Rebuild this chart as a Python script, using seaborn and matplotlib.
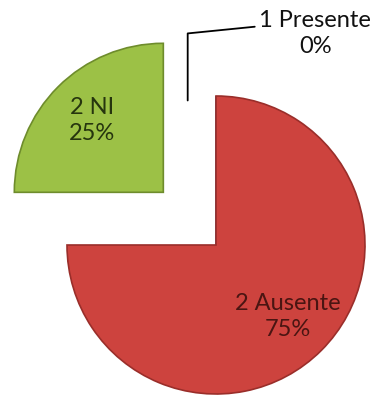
import matplotlib
matplotlib.use("Agg")
import matplotlib.pyplot as plt
import seaborn as sns
import numpy as np

categories = ["1 Presente", "2 Ausente", "2 NI"]
values = [0, 75, 25]
explode = [0.0, 0.0, 0.5]
colors = ["#4F81BD", "#CD433E", "#9CC146"]
edge_colors = ["#2F4F7A", "#9A2E2A", "#6E8C2C"]
text_colors = ["#111111", "#4A1512", "#26350E"]

sns.set_theme(style="white")
plt.rcParams["font.family"] = ["Lato", "DejaVu Sans"]

W, H, PX = 379, 399, 149.0
cx, cy = 216, 245
fig = plt.figure(figsize=(W / 100, H / 100), dpi=100)
ax = fig.add_axes([0, 0, 1, 1])

wedges, _ = ax.pie(values, explode=explode, colors=colors, startangle=90,
                   counterclock=False, radius=1.0,
                   wedgeprops=dict(linewidth=1.2))
for w, ec in zip(wedges, edge_colors):
    w.set_edgecolor(ec)

ax.set_xlim(-cx / PX, (W - cx) / PX)
ax.set_ylim(-(H - cy) / PX, cy / PX)
ax.set_aspect("equal")
ax.axis("off")

fs = 17
total = sum(values)
for w, name, v, tc in zip(wedges, categories, values, text_colors):
    pct = f"{v / total:.0%}"
    if v == 0:
        # zero slice: label outside with a leader line
        tx, ty = 0.665, 1.42
        ax.plot([-0.19, -0.19, 0.26], [0.97, 1.42, 1.465], color="black", lw=1.3)
        ax.text(tx, ty, f"{name}\n{pct}", ha="center", va="center",
                fontsize=fs, color=tc, linespacing=1.3)
        continue
    th = np.deg2rad((w.theta1 + w.theta2) / 2)
    x0, y0 = w.center
    d = 0.68
    ax.text(x0 + d * np.cos(th), y0 + d * np.sin(th), f"{name}\n{pct}",
            ha="center", va="center", fontsize=fs, color=tc, linespacing=1.3)

fig.savefig("out.png", dpi=100)
